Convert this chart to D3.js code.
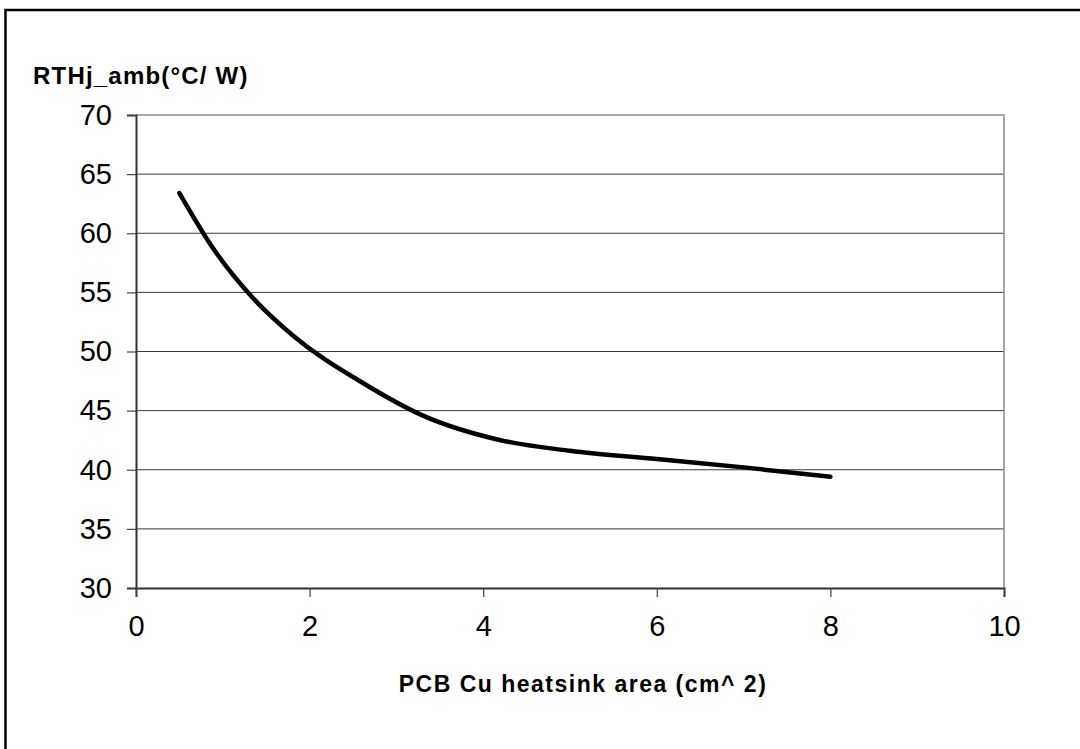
<!DOCTYPE html>
<html>
<head>
<meta charset="utf-8">
<script src="https://cdn.jsdelivr.net/npm/d3@7"></script>
<style>
  body { margin: 0; background: #fff; }
  svg { display: block; }
</style>
</head>
<body>
<div id="chart"></div>
<script>
"use strict";

// curve
var areaCm2 = [0.5, 0.9, 1.35, 1.8, 2.6, 3.3, 4.2, 5, 6, 7, 8];
var rthValues = [63.4, 58.6, 54.5, 51.4, 47.4, 44.6, 42.5, 41.6, 40.9, 40.2, 39.4];
var xTicks = [0, 2, 4, 6, 8, 10];
var yTicks = [30, 35, 40, 45, 50, 55, 60, 65, 70];

var width = 1080, height = 749;
var plot = { left: 136, right: 1004, top: 115, bottom: 588 };

var svg = d3.select("#chart")
    .append("svg")
    .attr("width", width)
    .attr("height", height);

// outer frame, runs off the right and bottom
svg.append("rect")
    .attr("x", 5.5)
    .attr("y", 10)
    .attr("width", 1200)
    .attr("height", 1000)
    .attr("fill", "none")
    .attr("stroke", "#000")
    .attr("stroke-width", 2.5);

var x = d3.scaleLinear().domain([0, 10]).range([plot.left, plot.right]);
var y = d3.scaleLinear().domain([30, 70]).range([plot.bottom, plot.top]);

// gridlines
svg.selectAll("line.grid")
    .data(yTicks.filter(function (d) { return d > 30 && d < 70; }))
    .enter()
    .append("line")
    .attr("class", "grid")
    .attr("x1", plot.left)
    .attr("x2", plot.right)
    .attr("y1", function (d) { return y(d); })
    .attr("y2", function (d) { return y(d); })
    .attr("stroke", "#3a3a3a")
    .attr("stroke-width", 1);

// plot area border top / right
svg.append("path")
    .attr("d", "M" + plot.left + "," + y(70) + "H" + plot.right + "V" + plot.bottom)
    .attr("fill", "none")
    .attr("stroke", "#8c8c8c")
    .attr("stroke-width", 1.5);

var yAxis = svg.append("g")
    .attr("transform", "translate(" + plot.left + ",0)")
    .call(d3.axisLeft(y).tickValues(yTicks).tickSize(9).tickPadding(15));

var xAxis = svg.append("g")
    .attr("transform", "translate(0," + plot.bottom + ")")
    .call(d3.axisBottom(x).tickValues(xTicks).tickSize(9).tickPadding(18));

[yAxis, xAxis].forEach(function (g) {
    g.select(".domain").attr("stroke", "#333").attr("stroke-width", 2);
    g.selectAll(".tick line").attr("stroke", "#444").attr("stroke-width", 1.2);
    g.selectAll(".tick text")
        .attr("fill", "#000")
        .attr("font-family", "'Liberation Sans', Arial, sans-serif")
        .attr("font-size", "29px");
});

// the curve
var line = d3.line()
    .curve(d3.curveMonotoneX)
    .x(function (d) { return x(d[0]); })
    .y(function (d) { return y(d[1]); });

svg.append("path")
    .datum(d3.zip(areaCm2, rthValues))
    .attr("d", line)
    .attr("fill", "none")
    .attr("stroke", "#000")
    .attr("stroke-width", 4.5)
    .attr("stroke-linejoin", "round")
    .attr("stroke-linecap", "round");

// titles
svg.append("text")
    .text("RTHj_amb(°C/ W)")
    .attr("x", 33)
    .attr("y", 84)
    .attr("font-family", "'Liberation Sans', Arial, sans-serif")
    .attr("font-weight", "bold")
    .attr("font-size", "24px")
    .attr("letter-spacing", "1.2px");

svg.append("text")
    .text("PCB Cu heatsink area (cm^ 2)")
    .attr("x", 583)
    .attr("y", 692)
    .attr("text-anchor", "middle")
    .attr("font-family", "'Liberation Sans', Arial, sans-serif")
    .attr("font-weight", "bold")
    .attr("font-size", "23px")
    .attr("letter-spacing", "1.5px");
</script>
</body>
</html>
